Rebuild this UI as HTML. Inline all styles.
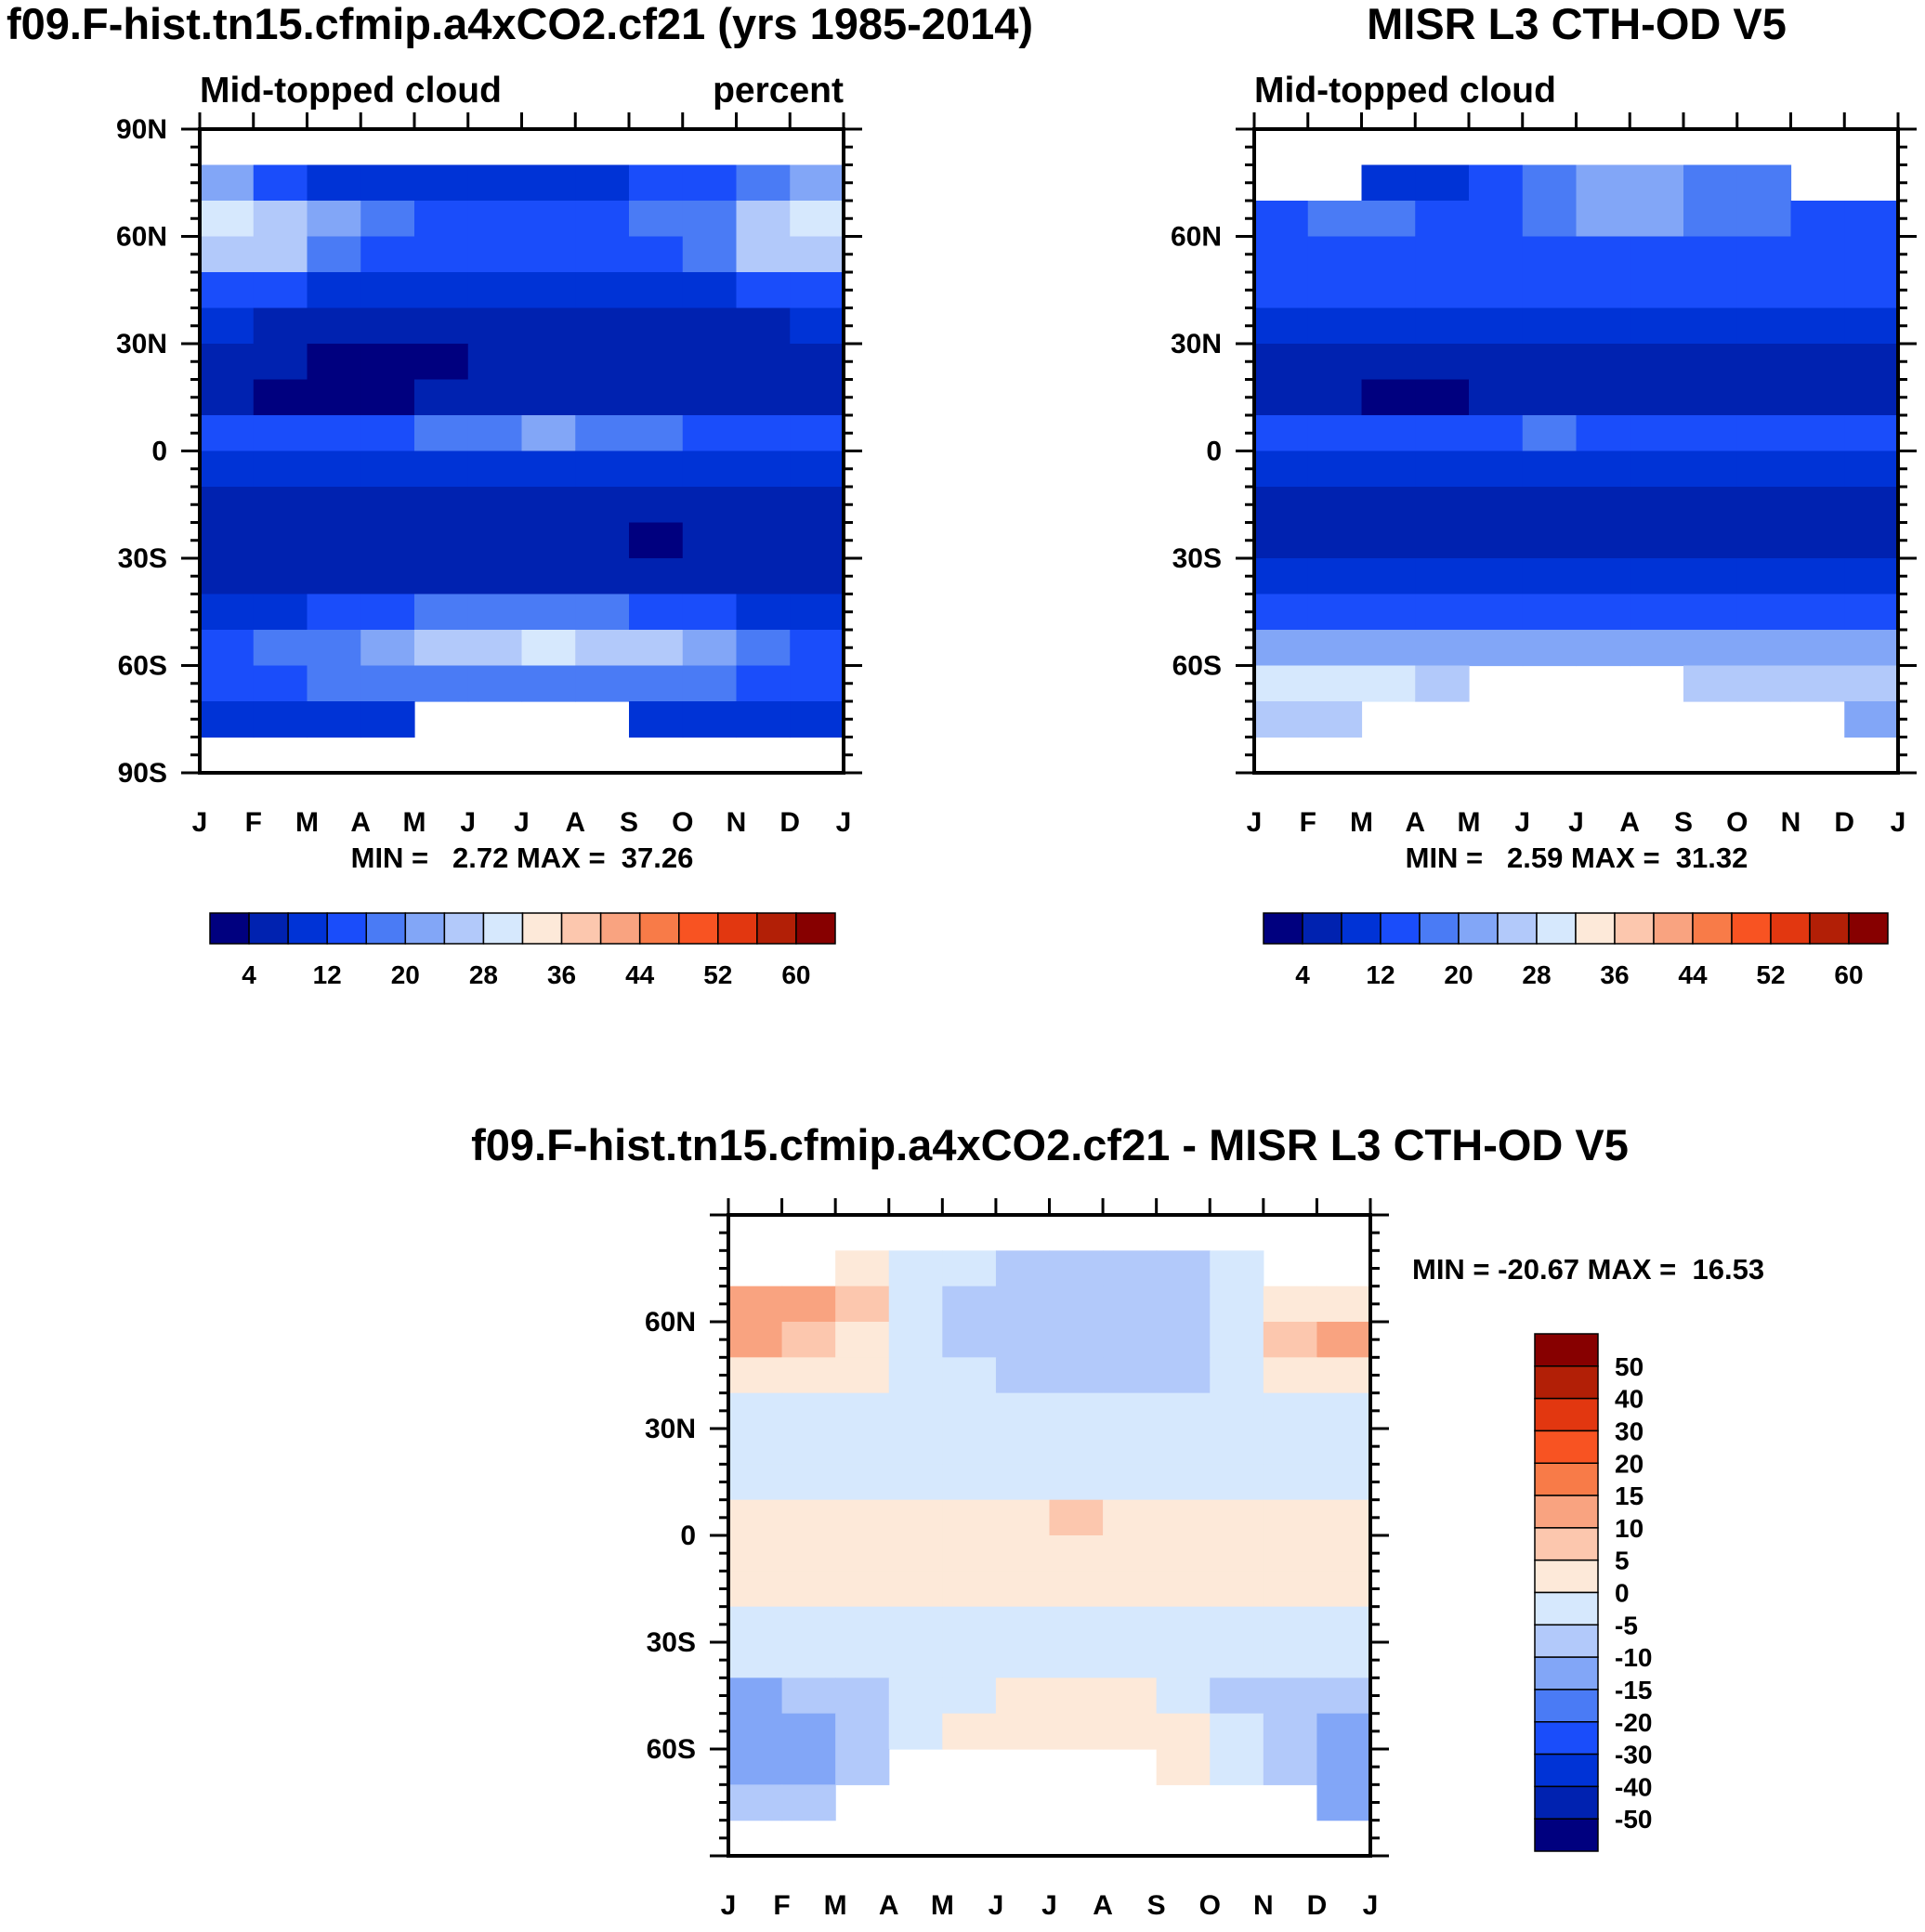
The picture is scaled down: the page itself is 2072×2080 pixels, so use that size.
<!DOCTYPE html>
<html><head><meta charset="utf-8"><style>
html,body{margin:0;padding:0;background:#fff}
svg text{font-family:"Liberation Sans",sans-serif;font-weight:bold;fill:#000;white-space:pre}
</style></head><body>
<svg id="root" xmlns="http://www.w3.org/2000/svg" width="2072" height="2075" viewBox="0 0 2072 2075">
<text x="7" y="42" font-size="47">f09.F-hist.tn15.cfmip.a4xCO2.cf21 (yrs 1985-2014)</text>
<text x="1697" y="42" font-size="47" text-anchor="middle">MISR L3 CTH-OD V5</text>
<text x="215" y="110" font-size="39">Mid-topped cloud</text>
<text x="908" y="110" font-size="39" text-anchor="end">percent</text>
<text x="1350" y="110" font-size="39">Mid-topped cloud</text>
<text x="562" y="934" font-size="31" text-anchor="middle">MIN =   2.72 MAX =  37.26</text>
<text x="1697" y="934" font-size="31" text-anchor="middle">MIN =   2.59 MAX =  31.32</text>
<text x="1130" y="1249" font-size="47" text-anchor="middle">f09.F-hist.tn15.cfmip.a4xCO2.cf21 - MISR L3 CTH-OD V5</text>
<text x="1520" y="1377" font-size="31">MIN = -20.67 MAX =  16.53</text>
<g id="g"></g>
</svg>
<script>
// rows: north (80-90N) to south (80-90S), 12 months each
const months=['J','F','M','A','M','J','J','A','S','O','N','D','J'];
const latLabels1=['90N','60N','30N','0','30S','60S','90S'];
const latLabels2=['','60N','30N','0','30S','60S',''];
const absLevels=[4,8,12,16,20,24,28,32,36,40,44,48,52,56,60];
const absTicks=['4','12','20','28','36','44','52','60'];
const diffLevels=[-50,-40,-30,-20,-15,-10,-5,0,5,10,15,20,30,40,50];
const N=null;
const model=[
[N,N,N,N,N,N,N,N,N,N,N,N],
[20,12,10,8,8,8,10,10,12,12,16,20],
[30,26,20,16,14,12,12,14,16,18,26,30],
[26,24,18,14,12,12,12,12,14,18,24,26],
[14,12,10,10,8,8,8,8,8,10,12,14],
[8,6,6,6,6,6,6,6,6,6,6,8],
[6,6,3,3,3,6,6,6,6,6,6,6],
[6,3,3,3,6,6,6,6,6,6,6,6],
[12,12,14,14,16,18,20,18,16,14,12,12],
[10,10,10,10,10,10,10,10,10,10,10,10],
[6,6,6,6,6,6,6,6,6,6,6,6],
[6,6,6,6,6,6,6,6,3,6,6,6],
[6,6,6,6,6,6,6,6,6,6,6,6],
[10,10,12,14,16,16,16,16,14,12,10,10],
[14,16,18,22,24,26,28,26,24,20,16,14],
[12,14,16,18,18,18,18,18,18,16,14,12],
[8,8,10,10,N,N,N,N,10,10,10,8],
[N,N,N,N,N,N,N,N,N,N,N,N]];
const obs=[
[N,N,N,N,N,N,N,N,N,N,N,N],
[N,N,10,10,12,16,20,20,18,16,N,N],
[14,16,16,14,14,18,20,20,18,16,14,14],
[14,14,14,14,14,14,14,14,14,14,14,14],
[12,12,12,12,12,12,12,12,12,12,12,12],
[10,10,10,10,10,10,10,10,10,10,10,10],
[6,6,6,6,6,6,6,6,6,6,6,6],
[6,6,3,3,6,6,6,6,6,6,6,6],
[12,12,14,14,14,16,14,14,14,14,12,12],
[8,8,8,8,8,8,8,8,8,8,8,8],
[6,6,6,6,6,6,6,6,6,6,6,6],
[6,6,6,6,6,6,6,6,6,6,6,6],
[10,10,10,10,10,10,10,10,10,10,10,10],
[14,14,14,14,14,14,14,14,14,14,14,14],
[20,20,20,20,20,20,20,20,20,20,20,20],
[28,28,28,26,N,N,N,N,24,26,26,26],
[26,24,N,N,N,N,N,N,N,N,N,20],
[N,N,N,N,N,N,N,N,N,N,N,N]];
const diff=[
[N,N,N,N,N,N,N,N,N,N,N,N],
[N,N,2,-5,-5,-8,-8,-8,-8,-2,N,N],
[12,10,6,-5,-8,-8,-8,-8,-8,-2,2,4],
[12,6,2,-5,-8,-8,-8,-8,-8,-2,6,12],
[4,4,2,-2,-5,-6,-6,-6,-6,-2,2,4],
[-2,-2,-2,-2,-2,-2,-2,-2,-2,-2,-2,-2],
[-2,-2,-2,-2,-2,-2,-2,-2,-2,-2,-2,-2],
[-2,-2,-2,-2,-2,-2,-2,-2,-2,-2,-2,-2],
[2,2,2,2,2,2,6,2,2,2,2,2],
[2,2,2,2,2,2,2,2,2,2,2,2],
[2,2,2,2,2,2,2,2,2,2,2,2],
[-2,-2,-2,-2,-2,-2,-2,-2,-2,-2,-2,-2],
[-2,-2,-2,-2,-2,-2,-2,-2,-2,-2,-2,-2],
[-12,-10,-6,-2,-2,2,2,2,-2,-6,-10,-10],
[-12,-12,-6,-2,2,2,2,2,2,-2,-8,-12],
[-12,-12,-8,N,N,N,N,N,2,-2,-8,-12],
[-10,-10,N,N,N,N,N,N,N,N,N,-15],
[N,N,N,N,N,N,N,N,N,N,N,N]];
const diffTicks=['50','40','30','20','15','10','5','0','-5','-10','-15','-20','-30','-40','-50'];

const colors=['#00007f','#0022b0','#0033d6','#1a4dfa','#4a7bf5','#82a6f7','#b2c9fa','#d6e8fd','#fde9d9','#fcc7ae','#f9a380','#f87b48','#f85322','#e23710','#b21f06','#870000'];
const NS='http://www.w3.org/2000/svg';
const G=document.getElementById('g');
function mk(t,a,p){const e=document.createElementNS(NS,t);for(const k in a)e.setAttribute(k,a[k]);(p||G).appendChild(e);return e;}
function colorIdx(v,lv){let i=0;while(i<lv.length&&v>=lv[i])i++;return i;}

function panel(name,P,data,lv,labels){
  const g=mk('g',{});
  
  
  const W=P.x1-P.x0,H=P.y1-P.y0;
  const xs=m=>P.x0+m/12*W;
  const ys=lat=>P.y0+(90-lat)/180*H;
  data.forEach((row,r)=>{
    row.forEach((v,m)=>{
      if(v===null)return;
      const latTop=90-r*10;
      const rc=mk('rect',{x:xs(m),y:ys(latTop),width:xs(m+1)-xs(m)+0.6,height:ys(latTop-10)-ys(latTop)+0.6,fill:colors[colorIdx(v,lv)]},g);
      
      
    });
  });
  const fr=mk('rect',{x:P.x0,y:P.y0,width:W,height:H,fill:'none',stroke:'#000','stroke-width':4},g);
  
  
  for(let lat=-90;lat<=90;lat+=5){
    const major=lat%30===0,len=major?20:10;
    mk('line',{x1:P.x0-len,x2:P.x0,y1:ys(lat),y2:ys(lat),stroke:'#000','stroke-width':3},g);
    mk('line',{x1:P.x1,x2:P.x1+len,y1:ys(lat),y2:ys(lat),stroke:'#000','stroke-width':3},g);
  }
  labels.forEach((l,i)=>{
    if(!l)return;
    const t=mk('text',{x:P.x0-35,y:ys(90-i*30)+10,'font-size':30,'text-anchor':'end'},g);
    t.textContent=l;
    
    
  });
  months.forEach((mo,m)=>{
    mk('line',{x1:xs(m),x2:xs(m),y1:P.y0-18,y2:P.y0,stroke:'#000','stroke-width':3},g);
    const t=mk('text',{x:xs(m),y:P.y1+63,'font-size':30,'text-anchor':'middle'},g);
    t.textContent=mo;
    
    
  });
}
panel('panel1-model',{x0:215,x1:908,y0:139,y1:832},model,absLevels,latLabels1);
panel('panel2-misr',{x0:1350,x1:2043,y0:139,y1:832},obs,absLevels,latLabels2);
panel('panel3-diff',{x0:784,x1:1475,y0:1308,y1:1998},diff,diffLevels,latLabels2);

function hbar(name,x0,x1,y0,y1){
  const g=mk('g',{});
  
  
  const w=(x1-x0)/16;
  colors.forEach((c,i)=>{mk('rect',{x:x0+i*w,y:y0,width:w,height:y1-y0,fill:c,stroke:'#000','stroke-width':1.5},g);});
  absTicks.forEach((t,i)=>{
    const tx=mk('text',{x:x0+(2*i+1)*w,y:y1+43,'font-size':28,'text-anchor':'middle'},g);
    tx.textContent=t;
    
    
  });
}
hbar('panel1-colorbar',226,899,983,1016);
hbar('panel2-colorbar',1360,2032,983,1016);
(function(){
  const g=mk('g',{});
  
  
  const x0=1652,x1=1720,y0=1436,y1=1993,h=(y1-y0)/16;
  colors.slice().reverse().forEach((c,i)=>{mk('rect',{x:x0,y:y0+i*h,width:x1-x0,height:h,fill:c,stroke:'#000','stroke-width':1.5},g);});
  diffTicks.forEach((t,i)=>{
    const tx=mk('text',{x:1738,y:y0+(i+1)*h+10,'font-size':28},g);
    tx.textContent=t;
    
    
  });
})();
</script>
</body></html>
